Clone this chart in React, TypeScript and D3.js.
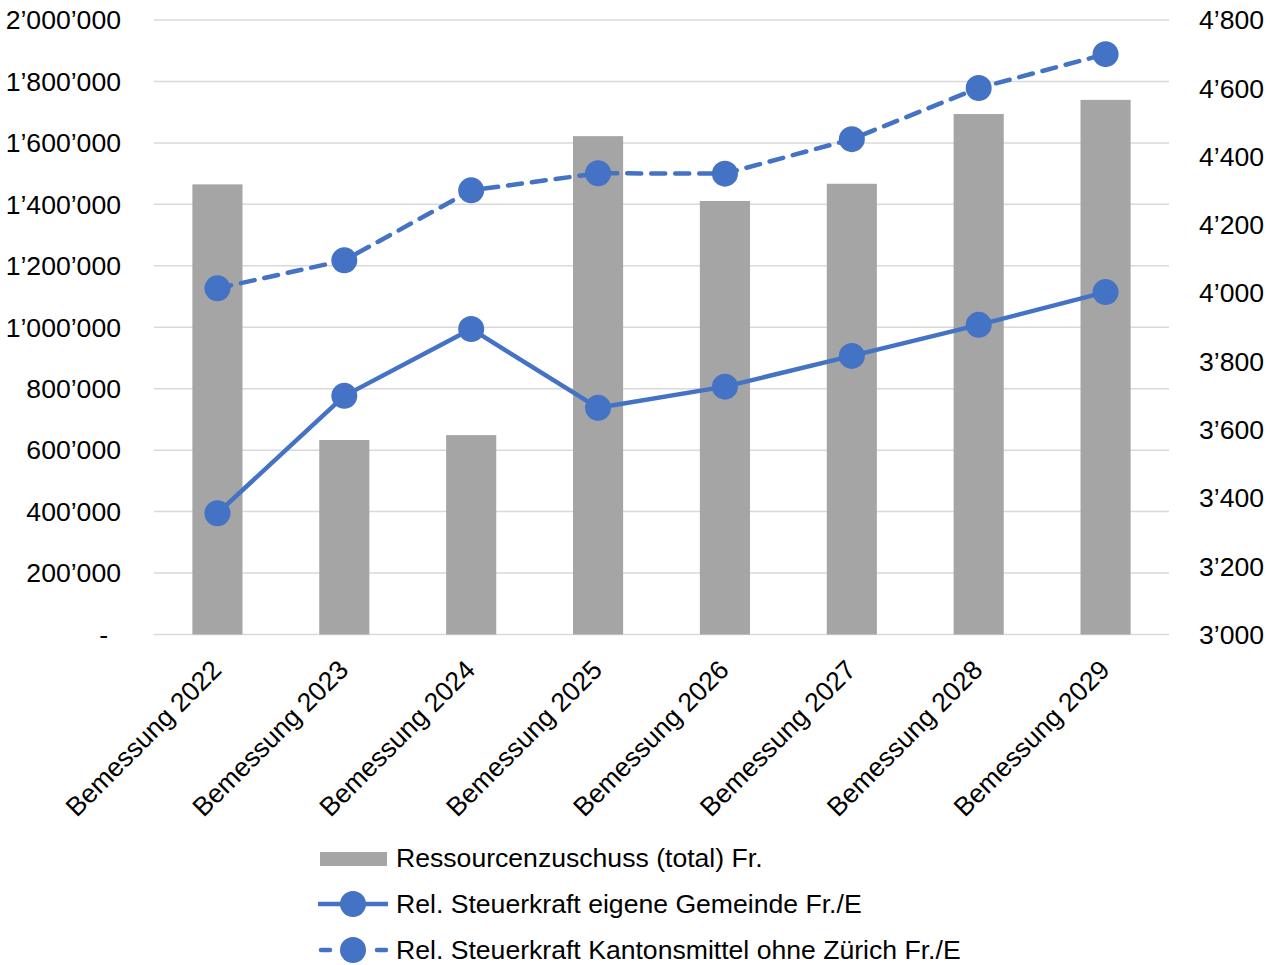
import React from 'react';
import * as d3 from 'd3';

const categories = ['Bemessung 2022', 'Bemessung 2023', 'Bemessung 2024', 'Bemessung 2025', 'Bemessung 2026', 'Bemessung 2027', 'Bemessung 2028', 'Bemessung 2029'];
const ressourcenzuschuss = [1465000, 633000, 649000, 1622000, 1411000, 1467000, 1694000, 1740000];
const steuerkraftGemeinde = [3355, 3699, 3895, 3664, 3726, 3816, 3907, 4003];
const steuerkraftKanton = [4014, 4096, 4301, 4351, 4350, 4451, 4601, 4700];
const leftTicks = [0, 200000, 400000, 600000, 800000, 1000000, 1200000, 1400000, 1600000, 1800000, 2000000];
const rightTicks = [3000, 3200, 3400, 3600, 3800, 4000, 4200, 4400, 4600, 4800];
const legendLabels = [
  'Ressourcenzuschuss (total) Fr.',
  'Rel. Steuerkraft eigene Gemeinde Fr./E',
  'Rel. Steuerkraft Kantonsmittel ohne Zürich Fr./E',
];

const W = 1276;
const H = 965;
const FONT = '"Liberation Sans", Arial, sans-serif';
const FS = 26.6;
const BAR = '#a5a5a5';
const LINE = '#4472c4';
const GRID = '#d9d9d9';

// swiss style thousands separator
const fmt = (v: number) => (v === 0 ? '-' : d3.format(',')(v).replace(/,/g, '\u2019'));

const App = () => {
  const plot = { left: 154, right: 1169, top: 20, bottom: 634.5 };

  const x = d3.scaleBand().domain(categories).range([plot.left, plot.right]).paddingInner(0.605).paddingOuter(0.3025);
  const yL = d3.scaleLinear().domain([0, 2000000]).range([plot.bottom, plot.top]);
  const yR = d3.scaleLinear().domain([3000, 4800]).range([plot.bottom, plot.top]);
  const cx = (c: string) => (x(c) ?? 0) + x.bandwidth() / 2;

  const line = d3.line<number>()
    .x((_, i) => cx(categories[i]))
    .y((d) => yR(d));

  return (
    <svg width={W} height={H} style={{ position: 'absolute', left: 0, top: 0, background: '#fff' }} fontFamily={FONT}>
      {/* grid */}
      {leftTicks.map((t) => (
        <line key={t} x1={plot.left} x2={plot.right} y1={yL(t)} y2={yL(t)} stroke={GRID} strokeWidth={1.5} />
      ))}

      {/* left axis labels */}
      {leftTicks.map((t) => (
        <text key={t} x={t === 0 ? 108 : 121} y={yL(t)} dy="0.35em" textAnchor="end" fontSize={FS} fill="#000">
          {fmt(t)}
        </text>
      ))}

      {/* right axis labels */}
      {rightTicks.map((t) => (
        <text key={t} x={1199} y={yR(t)} dy="0.35em" textAnchor="start" fontSize={FS} fill="#000">
          {fmt(t)}
        </text>
      ))}

      {/* bars */}
      {ressourcenzuschuss.map((v, i) => (
        <rect key={i} x={x(categories[i])} y={yL(v)} width={x.bandwidth()} height={yL(0) - yL(v)} fill={BAR} />
      ))}

      {/* lines */}
      <path d={line(steuerkraftGemeinde) ?? ''} fill="none" stroke={LINE} strokeWidth={4.5} strokeLinejoin="round" />
      <path d={line(steuerkraftKanton) ?? ''} fill="none" stroke={LINE} strokeWidth={4.5} strokeDasharray="14 10" strokeLinecap="round" strokeLinejoin="round" />
      {steuerkraftGemeinde.map((v, i) => (
        <circle key={'g' + i} cx={cx(categories[i])} cy={yR(v)} r={13} fill={LINE} />
      ))}
      {steuerkraftKanton.map((v, i) => (
        <circle key={'k' + i} cx={cx(categories[i])} cy={yR(v)} r={13} fill={LINE} />
      ))}

      {/* x labels */}
      {categories.map((c) => (
        <text key={c} transform={`translate(${cx(c) - 1},${665}) rotate(-45)`} dy="0.35em" textAnchor="end" fontSize={FS} fill="#000">
          {c}
        </text>
      ))}

      {/* legend */}
      <g>
        <rect x={320} y={852} width={67} height={14} fill={BAR} />
        <text x={396} y={858} dy="0.35em" fontSize={FS} fill="#000">{legendLabels[0]}</text>

        <line x1={318} x2={388} y1={904} y2={904} stroke={LINE} strokeWidth={4.5} />
        <circle cx={353} cy={904} r={13} fill={LINE} />
        <text x={396} y={904} dy="0.35em" fontSize={FS} fill="#000">{legendLabels[1]}</text>

        <line x1={321} x2={386} y1={950} y2={950} stroke={LINE} strokeWidth={4.5} strokeDasharray="9 47" strokeLinecap="round" />
        <circle cx={353} cy={950} r={13} fill={LINE} />
        <text x={396} y={950} dy="0.35em" fontSize={FS} fill="#000">{legendLabels[2]}</text>
      </g>
    </svg>
  );
};

export default App;
